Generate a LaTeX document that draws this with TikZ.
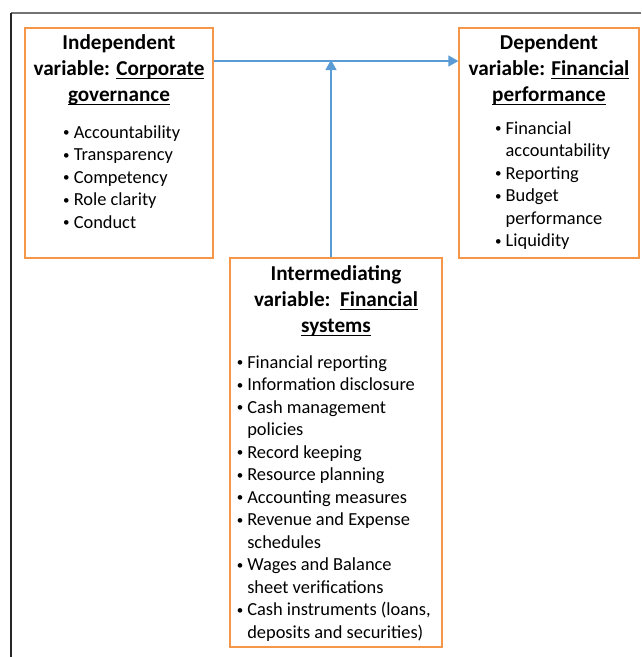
\documentclass[tikz,border=0pt]{standalone}
\usepackage{fontspec}
\setmainfont{Carlito}
\usepackage{amsmath}
\usetikzlibrary{positioning,arrows.meta}
\definecolor{boxorange}{RGB}{246,150,72}
\definecolor{linkblue}{RGB}{91,155,213}
\newcommand\itm[1]{\makebox[12pt][l]{\hspace{1.5pt}\raisebox{1.6pt}{\fontsize{13}{13}\selectfont\textbullet}}#1}
\newcommand\cnt[1]{\hspace*{12pt}#1}
\newcommand\uword[1]{\underline{\smash[b]{#1}}}

\begin{document}
\begin{tikzpicture}[x=1pt,y=-1pt,
	varbox/.style={draw=boxorange,line width=1.3pt,inner sep=0pt},
	ttl/.style={align=center,inner sep=0pt,font=\bfseries\fontsize{21.2}{26}\selectfont},
	lst/.style={align=left,inner sep=0pt,font=\fontsize{18.4}{22.5}\selectfont},
	link/.style={draw=linkblue,line width=1.3pt,-{Triangle[length=10pt,width=11pt]}}]
	%% page and frame
	\useasboundingbox (0,0) rectangle (641,657);
	\draw[black!55,line width=1.3pt] (11,13) -- (641,13);
	\draw[black!85,line width=1.3pt] (11,13) -- (11,657);

	% the three boxes
	\node[varbox,minimum width=188pt,minimum height=230pt] (gov) at (119,143) {};
	\node[varbox,minimum width=180pt,minimum height=230pt] (perf) at (549,143) {};
	\node[varbox,minimum width=212pt,minimum height=389pt] (sys) at (336,452.5) {};

	% independent
	\node[ttl,below=7pt of gov.north] (govttl) {Independent\\ variable: \uword{Corporate}\\ \uword{governance}};
	\node[lst,below=98pt of gov.north,xshift=2pt] (govlst) {%
		\itm{Accountability}\\ \itm{Transparency}\\ \itm{Competency}\\
		\itm{Role clarity}\\ \itm{Conduct}};

	% dependent
	\node[ttl,below=7pt of perf.north] (perfttl) {Dependent\\ variable: \uword{Financial}\\ \uword{performance}};
	\node[lst,below=94pt of perf.north,xshift=3pt] (perflst) {%
		\itm{Financial}\\ \cnt{accountability}\\ \itm{Reporting}\\
		\itm{Budget}\\ \cnt{performance}\\ \itm{Liquidity}};

	% intermediating
	\node[ttl,below=8pt of sys.north] (systtl) {Intermediating\\ variable:\ \ \uword{Financial}\\ \uword{systems}};
	\node[lst,below=98pt of sys.north,xshift=-3pt] (syslst) {%
		\itm{Financial reporting}\\ \itm{Information disclosure}\\
		\itm{Cash management}\\ \cnt{policies}\\ \itm{Record keeping}\\
		\itm{Resource planning}\\ \itm{Accounting measures}\\
		\itm{Revenue and Expense}\\ \cnt{schedules}\\
		\itm{Wages and Balance}\\ \cnt{sheet verifications}\\
		\itm{Cash instruments (loans,}\\ \cnt{deposits and securities)}};

	% links
	\coordinate (join) at (331,61);
	\draw[link] (gov.east |- join) -- (perf.west |- join);
	\draw[link] (sys.north -| join) -- ([yshift=1pt]join);
\end{tikzpicture}
\end{document}
